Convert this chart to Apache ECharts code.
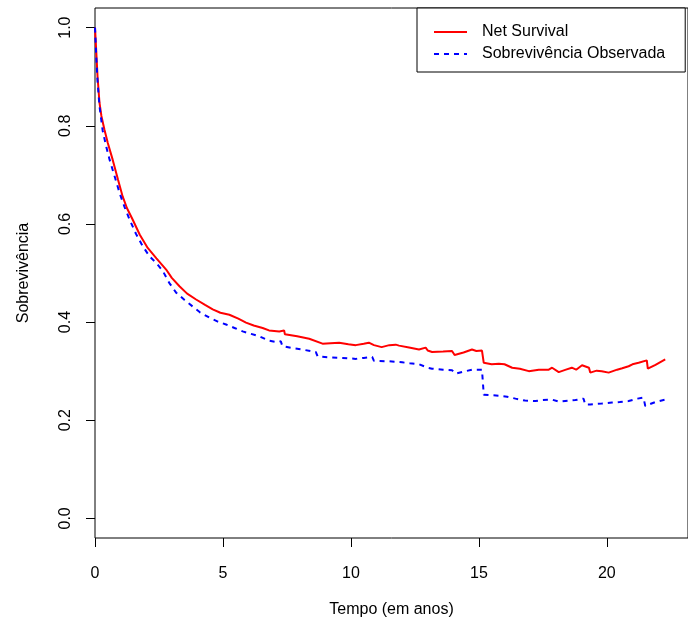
<!DOCTYPE html>
<html><head><meta charset="utf-8">
<script src="https://cdn.jsdelivr.net/npm/echarts@6/dist/echarts.min.js"></script>
<style>html,body{margin:0;padding:0;background:#fff}#c{width:688px;height:628px}</style>
</head><body><div id="c"></div>
<script>
const netTime = [0,0.05,0.1,0.175,0.25,0.37,0.5,0.69,0.9,1.08,1.25,1.47,1.75,2.06,2.4,2.78,3.0,3.3,3.6,3.95,4.3,4.6,4.9,5.25,5.6,5.9,6.2,6.55,6.8,7.2,7.39,7.42,7.9,8.37,8.89,9.2,9.54,9.9,10.19,10.5,10.7,10.9,11.2,11.5,11.75,11.88,12.27,12.66,12.92,13.0,13.17,13.6,13.95,14.05,14.4,14.73,14.9,15.12,15.17,15.19,15.5,15.78,16.0,16.3,16.6,16.95,17.34,17.73,17.86,18.12,18.4,18.63,18.8,19.03,19.3,19.35,19.6,19.8,20.07,20.4,20.6,20.85,21.0,21.24,21.56,21.6,21.9,22.28];
const netSurv = [1.0,0.95,0.90,0.847,0.82,0.792,0.765,0.731,0.69,0.656,0.632,0.609,0.578,0.551,0.53,0.507,0.49,0.473,0.458,0.446,0.435,0.426,0.419,0.415,0.407,0.399,0.393,0.388,0.383,0.381,0.383,0.375,0.371,0.366,0.356,0.357,0.358,0.355,0.353,0.356,0.358,0.353,0.349,0.353,0.354,0.352,0.348,0.344,0.348,0.342,0.339,0.340,0.341,0.333,0.338,0.344,0.341,0.342,0.342,0.317,0.314,0.315,0.314,0.307,0.305,0.300,0.303,0.303,0.307,0.298,0.303,0.307,0.303,0.312,0.307,0.297,0.301,0.300,0.297,0.303,0.306,0.310,0.314,0.317,0.322,0.305,0.313,0.324];
const obsTime = [0,0.05,0.1,0.175,0.3,0.45,0.57,0.75,0.96,1.15,1.35,1.6,1.86,2.13,2.4,2.65,2.9,3.17,3.5,3.81,4.1,4.47,4.8,5.12,5.45,5.77,6.1,6.42,6.8,7.13,7.26,7.32,7.7,8.1,8.63,8.7,9.2,9.67,10.19,10.5,10.83,10.9,11.5,12.0,12.3,12.66,13.0,13.17,13.6,13.95,14.1,14.4,14.73,15.12,15.17,15.19,15.78,16.1,16.43,16.8,17.2,17.5,17.86,18.12,18.5,18.77,19.09,19.15,19.35,19.8,20.2,20.5,20.85,21.2,21.43,21.5,21.56,21.89,22.28];
const obsSurv = [1.0,0.94,0.89,0.840,0.79,0.755,0.731,0.70,0.663,0.635,0.609,0.58,0.555,0.534,0.52,0.504,0.48,0.46,0.445,0.432,0.42,0.409,0.401,0.395,0.388,0.381,0.376,0.371,0.362,0.359,0.361,0.351,0.347,0.344,0.339,0.330,0.328,0.327,0.325,0.327,0.329,0.321,0.320,0.318,0.316,0.314,0.307,0.305,0.303,0.302,0.295,0.299,0.303,0.303,0.303,0.252,0.250,0.248,0.244,0.240,0.239,0.241,0.242,0.238,0.240,0.241,0.244,0.232,0.232,0.234,0.236,0.237,0.239,0.244,0.246,0.229,0.229,0.237,0.242];
const xTicks = [0,5,10,15,20];
const yTicks = [0,0.2,0.4,0.6,0.8,1.0];
const seriesNames = ['Net Survival','Sobrevivência Observada'];

const font = 'Liberation Sans, Arial, Helvetica, sans-serif';
const chart = echarts.init(document.getElementById('c'));
const pair = (t, v) => t.map((x, i) => [x, v[i]]);
chart.setOption({
  animation: false,
  textStyle: {fontFamily: font},
  grid: {left: 95, top: 8, right: -1, bottom: 90, show: true, borderColor: '#000', borderWidth: 1, backgroundColor: 'transparent'},
  legend: {
    orient: 'vertical', left: 417, top: 8,
    width: 271,
    padding: [16, 20, 10, 16], itemGap: 6,
    itemWidth: 33, itemHeight: 14,
    borderColor: '#000', borderWidth: 1, borderRadius: 0, backgroundColor: '#fff',
    itemStyle: {opacity: 0},
    textStyle: {fontFamily: font, fontSize: 16, color: '#000', padding: [0, 0, 0, 10]},
    data: seriesNames
  },
  xAxis: {
    type: 'value', min: 0, max: 23.17, interval: 5,
    name: 'Tempo (em anos)', nameLocation: 'middle', nameGap: 64,
    nameTextStyle: {fontFamily: font, fontSize: 16, color: '#000'},
    axisLine: {show: false, onZero: false},
    axisTick: {show: true, inside: false, length: 9, lineStyle: {color: '#000'}, customValues: xTicks},
    axisLabel: {fontFamily: font, fontSize: 16, color: '#000', margin: 28, customValues: xTicks},
    splitLine: {show: false}
  },
  yAxis: {
    type: 'value', min: -0.04, max: 1.04,
    name: 'Sobrevivência', nameLocation: 'middle', nameGap: 63, nameRotate: 90,
    nameTextStyle: {fontFamily: font, fontSize: 16, color: '#000'},
    axisLine: {show: false, onZero: false},
    axisTick: {show: true, inside: false, length: 9, lineStyle: {color: '#000'}, customValues: yTicks},
    axisLabel: {fontFamily: font, fontSize: 16, color: '#000', margin: 21, rotate: 90, customValues: yTicks,
      formatter: v => v.toFixed(1)},
    splitLine: {show: false}
  },
  series: [
    {name: seriesNames[0], type: 'line', data: pair(netTime, netSurv), showSymbol: false, symbol: 'none',
     lineStyle: {color: '#FF0000', width: 2}, itemStyle: {color: '#FF0000'}},
    {name: seriesNames[1], type: 'line', data: pair(obsTime, obsSurv), showSymbol: false, symbol: 'none',
     lineStyle: {color: '#0000FF', width: 2, type: [5, 5]}, itemStyle: {color: '#0000FF'}}
  ]
});
</script></body></html>
